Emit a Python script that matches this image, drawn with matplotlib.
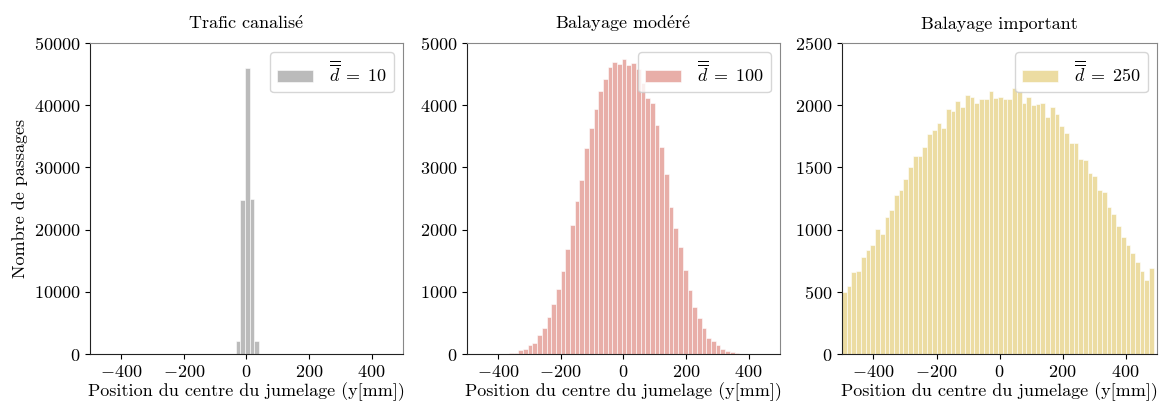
import matplotlib
matplotlib.use("Agg")
import matplotlib.pyplot as plt
import numpy as np

plt.rcParams["font.family"] = "serif"
plt.rcParams["font.serif"] = ["cmr10"]
plt.rcParams["mathtext.fontset"] = "cm"
plt.rcParams["axes.formatter.use_mathtext"] = True
plt.rcParams["font.size"] = 13

# Bin edges shared by the three histograms (width 15 mm)
bin_start = -500
bin_step = 15
n_bins = 66

# Counts per bin
counts_canal = [0] * 31 + [2090, 24730, 45930, 24840, 2090] + [0] * 30

counts_modere = [0, 0, 0, 0, 0, 0, 0, 0, 3, 10, 20, 60, 80, 140, 180, 300,
                 420, 590, 800, 1050, 1340, 1690, 2066, 2457, 2794, 3313,
                 3635, 3934, 4224, 4416, 4614, 4695, 4662, 4748, 4641, 4673,
                 4582, 4357, 4122, 4041, 3683, 3330, 2890, 2366, 2023, 1713,
                 1343, 1033, 760, 573, 412, 252, 214, 139, 80, 53, 27, 16,
                 6, 2, 0, 0, 0, 0, 0, 0]

counts_important = [495, 544, 656, 664, 782, 833, 873, 1004, 964, 1101, 1160,
                    1275, 1320, 1406, 1505, 1591, 1591, 1666, 1767, 1800,
                    1853, 1816, 1968, 1950, 2033, 1987, 2083, 2067, 2016,
                    2049, 2049, 2113, 2059, 2067, 2046, 2051, 2137, 2116,
                    2019, 2067, 2003, 2008, 2019, 1901, 1982, 1931, 1834,
                    1778, 1693, 1693, 1567, 1559, 1457, 1430, 1318, 1299,
                    1181, 1127, 1031, 937, 873, 811, 736, 670, 594, 688]

titles = [r"Trafic canalis$\acute{\mathrm{e}}$",
          r"Balayage mod$\acute{\mathrm{e}}$r$\acute{\mathrm{e}}$",
          "Balayage important"]
d_values = [10, 100, 250]
colors = ["#bbbbbb", "#e8aea8", "#ecdca2"]
ylims = [50000, 5000, 2500]
all_counts = [counts_canal, counts_modere, counts_important]

edges = bin_start + bin_step * np.arange(n_bins + 1)

fig = plt.figure(figsize=(11.67, 4.05), dpi=100)
lefts = [0.0771, 0.3999, 0.7215]
widths = [0.2682, 0.2685, 0.2700]

for i in range(3):
    ax = fig.add_axes([lefts[i], 0.1259, widths[i], 0.768])
    ax.bar(edges[:-1], all_counts[i], width=bin_step, align="edge",
           color=colors[i], edgecolor="white", linewidth=0.4,
           label=r"$\overline{\overline{d}}\;=\;%d$" % d_values[i])
    ax.set_xlim(-500, 500)
    ax.set_ylim(0, ylims[i])
    ax.set_xticks([-400, -200, 0, 200, 400])
    ax.set_title(titles[i], pad=10, fontsize=13)
    ax.set_xlabel("Position du centre du jumelage (y[mm])", labelpad=2)
    for s in ["top", "right"]:
        ax.spines[s].set_color("#888888")
    for s in ["left", "bottom"]:
        ax.spines[s].set_color("#222222")
    ax.legend(loc="upper right", fancybox=True, framealpha=0.8,
              edgecolor="#cccccc", handlelength=1.95, handletextpad=0.9)
    if i == 0:
        ax.set_ylabel("Nombre de passages")

fig.savefig("out.png", dpi=100)
